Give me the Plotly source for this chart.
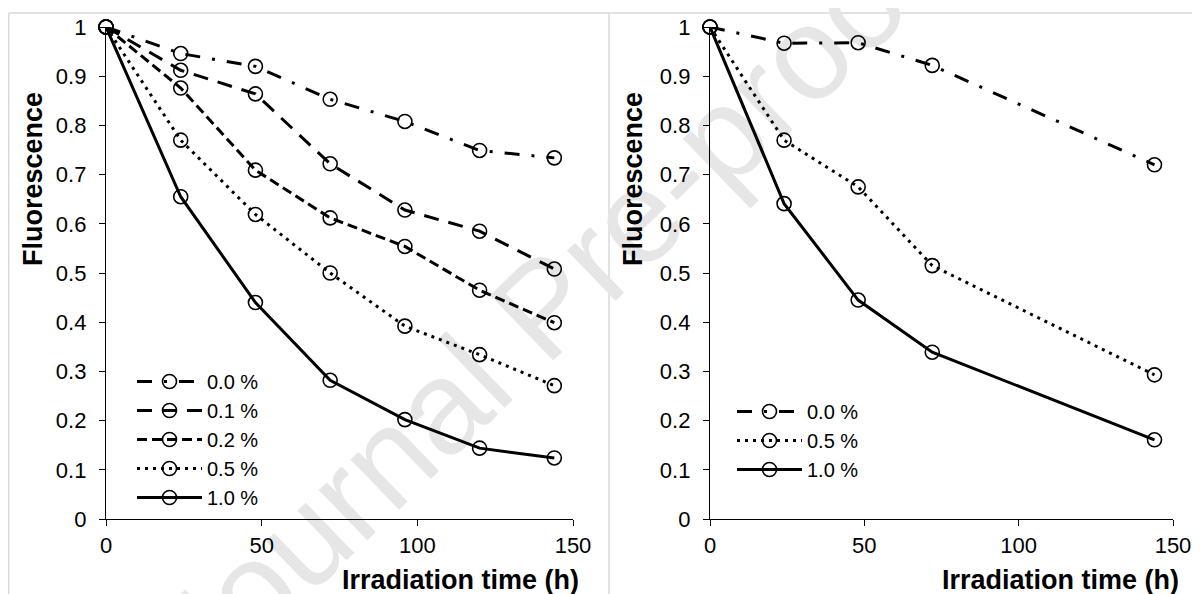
import plotly.graph_objects as go

# ---------------- data ----------------
time_left = [0, 24, 48, 72, 96, 120, 144]
left_00 = [1.000, 0.946, 0.920, 0.853, 0.808, 0.749, 0.734]
left_01 = [1.000, 0.912, 0.864, 0.722, 0.628, 0.585, 0.508]
left_02 = [1.000, 0.876, 0.709, 0.612, 0.554, 0.465, 0.399]
left_05 = [1.000, 0.770, 0.619, 0.500, 0.392, 0.334, 0.271]
left_10 = [1.000, 0.655, 0.440, 0.282, 0.202, 0.144, 0.124]

time_right = [0, 24, 48, 72, 144]
right_00 = [1.000, 0.967, 0.968, 0.922, 0.720]
right_05 = [1.000, 0.770, 0.675, 0.515, 0.293]
right_10 = [1.000, 0.641, 0.445, 0.339, 0.161]

left_names = ["0.0 %", "0.1 %", "0.2 %", "0.5 %", "1.0 %"]
right_names = ["0.0 %", "0.5 %", "1.0 %"]

x_ticks = [0, 50, 100, 150]
y_ticks = [0, 0.1, 0.2, 0.3, 0.4, 0.5, 0.6, 0.7, 0.8, 0.9, 1]
y_ticktext = ["0", "0.1", "0.2", "0.3", "0.4", "0.5", "0.6", "0.7", "0.8", "0.9", "1"]

x_title = "Irradiation time (h)"
y_title = "Fluorescence"
watermark = "Journal Pre-proof"

# ---------------- styles ----------------
FONT = "Arial, Liberation Sans, sans-serif"
PAGE_OFF = 8            # browser body margin
W, H = 1200 - PAGE_OFF, 594 - PAGE_OFF
dash_styles = {
    "0.0 %": "15px,12px,3px,12px",
    "0.1 %": "15px,10px",
    "0.2 %": "10px,5px",
    "0.5 %": "3px,5px",
    "1.0 %": "solid",
}

fig = go.Figure()

def add_series(x, y, name, xa, ya, legend):
    fig.add_trace(go.Scatter(
        x=x, y=y, name=name, mode="lines+markers",
        xaxis=xa, yaxis=ya, legend=legend,
        line=dict(color="black", width=3, dash=dash_styles[name]),
        marker=dict(symbol="circle-open", size=14, color="black",
                    line=dict(width=1.6, color="black")),
        cliponaxis=False,
    ))

for name, ys in zip(left_names, [left_00, left_01, left_02, left_05, left_10]):
    add_series(time_left, ys, name, "x", "y", "legend")
for name, ys in zip(right_names, [right_00, right_05, right_10]):
    add_series(time_right, ys, name, "x2", "y2", "legend2")

def px_x(p):
    return (p - PAGE_OFF) / W

def px_y(p):
    return 1 - (p - PAGE_OFF) / H

axis_common = dict(
    showgrid=False, zeroline=False, showline=True, linecolor="black",
    linewidth=1.3, ticks="outside", ticklen=6, tickwidth=1.3, automargin=False,
    tickcolor="black", tickfont=dict(family=FONT, size=22, color="black"),
)

legend_common = dict(xanchor="left", yanchor="top", bgcolor="rgba(0,0,0,0)",
                     itemwidth=65, traceorder="normal",
                     font=dict(family=FONT, size=20, color="black"))

fig.update_layout(
    width=W, height=H,
    margin=dict(l=0, r=0, t=0, b=0, autoexpand=False),
    paper_bgcolor="white", plot_bgcolor="rgba(0,0,0,0)",
    font=dict(family=FONT, color="black"),
    xaxis=dict(domain=[px_x(106), px_x(573)], range=[0, 150], anchor="y",
               tickvals=x_ticks, **axis_common),
    yaxis=dict(domain=[px_y(519), px_y(27)], range=[0, 1], anchor="x",
               tickvals=y_ticks, ticktext=y_ticktext, ticklabelstandoff=8,
               **axis_common),
    xaxis2=dict(domain=[px_x(710), px_x(1173)], range=[0, 150], anchor="y2",
                tickvals=x_ticks, **axis_common),
    yaxis2=dict(domain=[px_y(519), px_y(27)], range=[0, 1], anchor="x2",
                tickvals=y_ticks, ticktext=y_ticktext, ticklabelstandoff=8,
                **axis_common),
    legend=dict(x=px_x(132), y=px_y(362), **legend_common),
    legend2=dict(x=px_x(732), y=px_y(392), **legend_common),
    showlegend=True,
)

# axis titles
for xc in (33, 633):
    fig.add_annotation(text="<b>%s</b>" % y_title, xref="paper", yref="paper",
                       x=px_x(xc), y=px_y(179), textangle=-90, showarrow=False,
                       xanchor="center", yanchor="middle",
                       font=dict(family=FONT, size=27, color="black"))
for xr in (581, 1181):
    fig.add_annotation(text="<b>%s</b>" % x_title, xref="paper", yref="paper",
                       x=px_x(xr), y=px_y(580), showarrow=False,
                       xanchor="right", yanchor="middle",
                       font=dict(family=FONT, size=27, color="black"))

# panel frames
frame = dict(color="#d9d9d9", width=1.5)
fig.add_shape(type="line", xref="paper", yref="paper", x0=px_x(8.75), x1=px_x(1205),
              y0=px_y(13), y1=px_y(13), line=frame, layer="below")
fig.add_shape(type="line", xref="paper", yref="paper", x0=px_x(8.75), x1=px_x(8.75),
              y0=px_y(13), y1=px_y(600), line=frame, layer="below")
fig.add_shape(type="line", xref="paper", yref="paper", x0=px_x(609), x1=px_x(609),
              y0=px_y(13), y1=px_y(600), line=frame, layer="below")

# watermark
fig.add_shape(type="line", xref="paper", yref="paper",
              x0=px_x(390), y0=px_y(437), x1=px_x(678), y1=px_y(159),
              line=dict(color="rgba(0,0,0,0)", width=0), layer="below",
              label=dict(text=watermark, textposition="middle", yanchor="middle",
                         font=dict(family=FONT, size=132, color="#e6e6e6")))

fig.write_html("out.html")
